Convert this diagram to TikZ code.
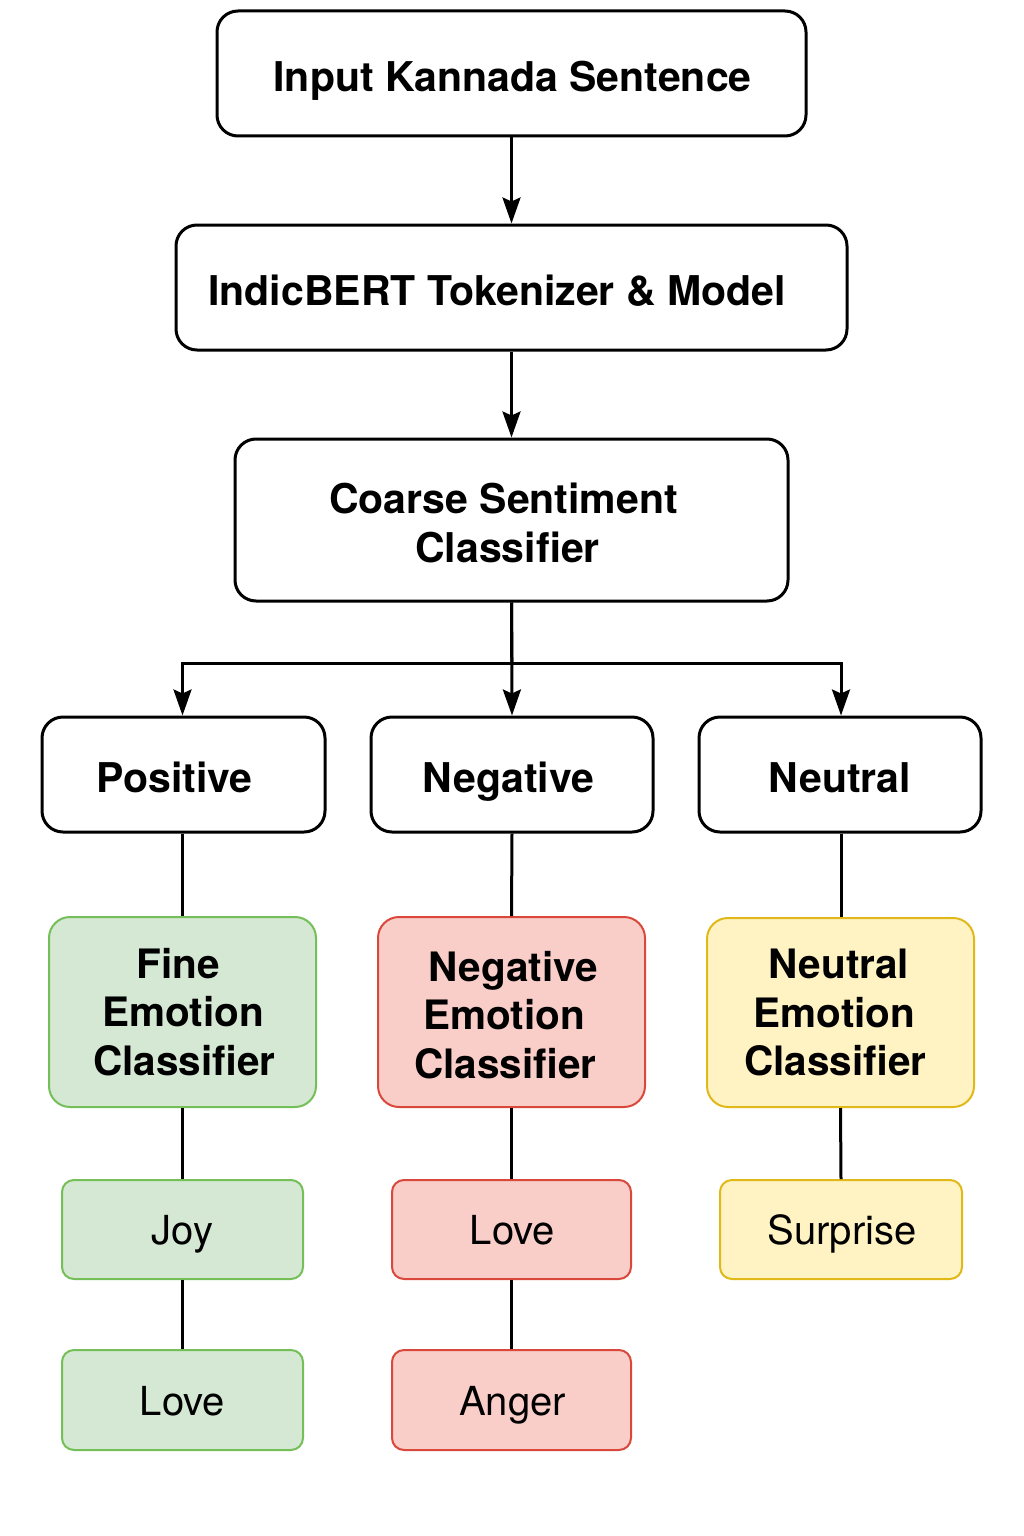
\documentclass[tikz,border=0pt]{standalone}
\usepackage{fontspec}
\setmainfont{TeX Gyre Heros}
\usetikzlibrary{arrows.meta}
\definecolor{gfill}{HTML}{D5E8D4}
\definecolor{gline}{HTML}{74BF58}
\definecolor{rfill}{HTML}{F9CDC8}
\definecolor{rline}{HTML}{D9483B}
\definecolor{yfill}{HTML}{FFF3C4}
\definecolor{yline}{HTML}{E0B818}
% place a line of text with its centre shifted by #1
\newcommand\sx[2]{\makebox[0pt]{\hspace*{#1}\hspace*{#1}#2}}
% lower a line of text by 3pt without changing its extent
\newcommand\dn[1]{\raisebox{-3pt}[\height][\depth]{#1}}
\tikzset{
  box/.style={draw, line width=3pt, rounded corners=21pt, inner sep=0pt, align=center,
    font=\bfseries\fontsize{41}{48.5}\selectfont},
  one/.style={text height=36pt, text depth=0pt},
  cls/.style={line width=2pt, font=\bfseries\fontsize{40.5}{48.5}\selectfont},
  leaf/.style={draw, line width=2pt, rounded corners=12pt, inner sep=0pt, align=center,
    font=\fontsize{40}{48}\selectfont, minimum height=99pt, text height=30pt, text depth=0pt},
  greenbox/.style={fill=gfill, draw=gline},
  redbox/.style={fill=rfill, draw=rline},
  yellowbox/.style={fill=yfill, draw=yline},
  conn/.style={line width=3pt},
  arr/.style={line width=3pt, -{Stealth[length=26pt,width=18pt,inset=4pt]}}
}
\begin{document}
\begin{tikzpicture}[x=1pt,y=-1pt]
\useasboundingbox[fill=white] (0,0) rectangle (1024,1536);
% main chain
\node[box, one, minimum width=589pt, minimum height=125pt] (in) at (511.5,73.5) {\sx{1pt}{Input Kannada Sentence}};
\node[box, one, minimum width=671pt, minimum height=125pt] (tok) at (511.5,287.5) {\sx{-14.5pt}{IndicBERT Tokenizer \& Model}};
\node[box, minimum width=553pt, minimum height=162pt] (coarse) at (511.5,520) {\sx{-8pt}{\dn{Coarse Sentiment}}\\\sx{-4pt}{\dn{Classifier}}};
% sentiment boxes
\node[box, one, minimum width=283pt, minimum height=115pt] (pos) at (183.5,774.5) {\sx{-9pt}{Positive}};
\node[box, one, minimum width=282pt, minimum height=115pt] (neg) at (512,774.5) {\sx{-3.5pt}{Negative}};
\node[box, one, minimum width=282pt, minimum height=115pt] (neu) at (840,774.5) {\sx{0pt}{Neutral}};
% emotion classifiers
\node[box, cls, greenbox, minimum width=267pt, minimum height=190pt] (fine) at (182.5,1012) {\sx{-4pt}{Fine}\\\sx{0.5pt}{Emotion}\\\sx{2pt}{Classifier}};
\node[box, cls, redbox, minimum width=267pt, minimum height=190pt] (negec) at (511.5,1012) {\sx{2pt}{\dn{Negative}}\\\sx{-7.5pt}{\dn{Emotion}}\\\sx{-6pt}{\dn{Classifier}}};
\node[box, cls, yellowbox, minimum width=267pt, minimum height=189pt] (neuec) at (840.5,1012.5) {\sx{-1.5pt}{Neutral}\\\sx{-6pt}{Emotion}\\\sx{-5pt}{Classifier}};
% leaves
\node[leaf, greenbox, minimum width=241pt] (joy) at (182.5,1229.5) {Joy};
\node[leaf, greenbox, minimum width=241pt, minimum height=100pt] (glove) at (182.5,1400) {Love};
\node[leaf, redbox, minimum width=239pt] (rlove) at (511.5,1229.5) {\sx{1pt}{Love}};
\node[leaf, redbox, minimum width=239pt, minimum height=100pt] (anger) at (511.5,1400) {\sx{1pt}{Anger}};
\node[leaf, yellowbox, minimum width=242pt] (surp) at (841,1229.5) {\sx{1pt}{Surprise}};
% connectors
\coordinate (bar) at (512,663);
\draw[arr] (in.south) -- (tok.north);
\draw[arr] (tok.south) -- (coarse.north);
\draw[arr] (coarse.south) -- (neg.north);
\draw[conn] (coarse.south) -- (bar);
\draw[arr] (bar) -| (fine.north |- pos.north);
\draw[arr] (bar) -| (surp.north |- neu.north);
\draw[conn] (fine.north |- pos.south) -- (fine.north);
\draw[conn] (neg.south) -- (negec.north);
\draw[conn] (surp.north |- neu.south) -- (surp.north |- neuec.north);
\draw[conn] (fine.south) -- (joy.north);
\draw[conn] (joy.south) -- (glove.north);
\draw[conn] (negec.south) -- (rlove.north);
\draw[conn] (rlove.south) -- (anger.north);
\draw[conn] (neuec.south) -- (surp.north);
\end{tikzpicture}
\end{document}
